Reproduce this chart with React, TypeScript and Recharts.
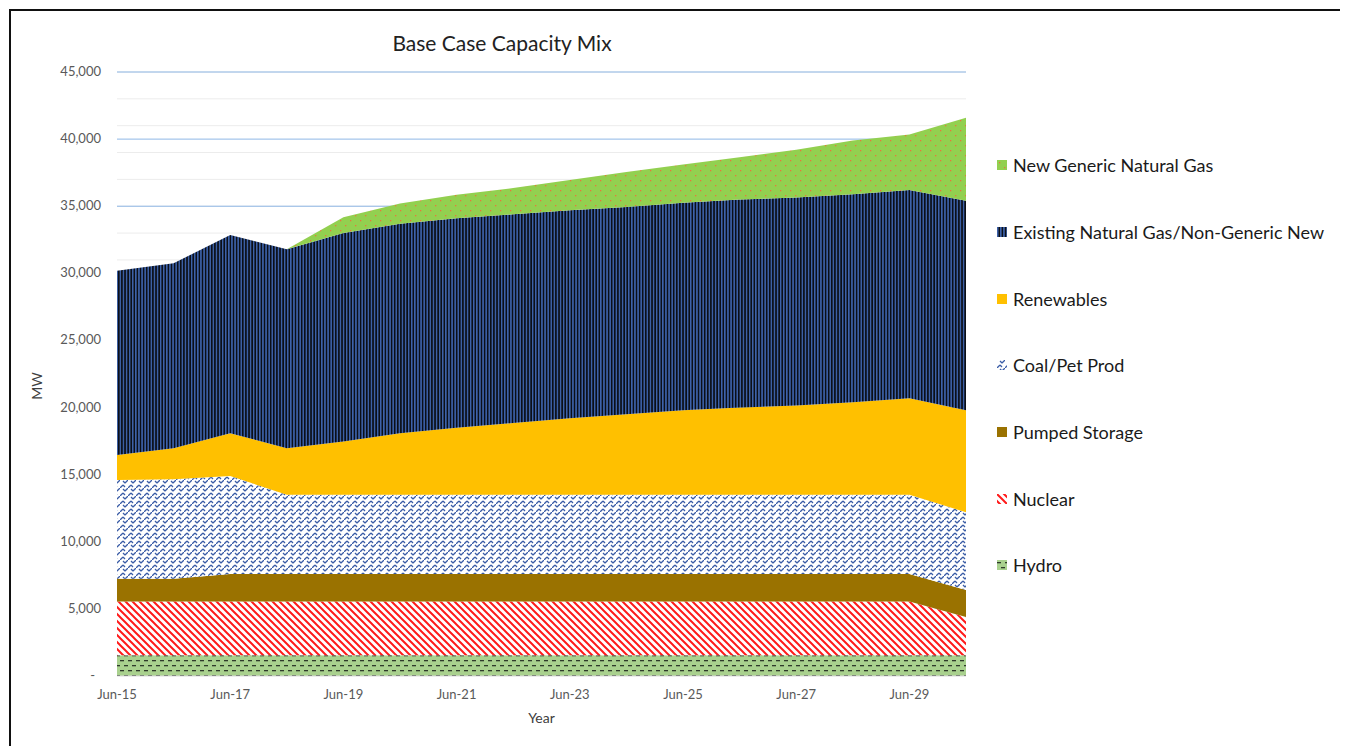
import { AreaChart, Area, XAxis, YAxis, CartesianGrid, Label } from 'recharts';

const months = ['Jun-15', 'Jun-16', 'Jun-17', 'Jun-18', 'Jun-19', 'Jun-20', 'Jun-21', 'Jun-22', 'Jun-23', 'Jun-24', 'Jun-25', 'Jun-26', 'Jun-27', 'Jun-28', 'Jun-29', 'Jun-30'];
const hydro = [1550, 1550, 1550, 1550, 1550, 1550, 1550, 1550, 1550, 1550, 1550, 1550, 1550, 1550, 1550, 1550];
const nuclear = [4000, 4000, 4000, 4000, 4000, 4000, 4000, 4000, 4000, 4000, 4000, 4000, 4000, 4000, 4000, 2850];
const pumped = [1700, 1700, 2050, 2050, 2050, 2050, 2050, 2050, 2050, 2050, 2050, 2050, 2050, 2050, 2050, 2000];
const coal = [7350, 7400, 7300, 5900, 5900, 5900, 5900, 5900, 5900, 5900, 5900, 5900, 5900, 5900, 5900, 5800];
const renewables = [1870, 2320, 3180, 3470, 3970, 4580, 5000, 5350, 5700, 6000, 6300, 6500, 6650, 6900, 7200, 7600];
const existingGas = [13730, 13780, 14780, 14830, 15530, 15620, 15600, 15550, 15500, 15450, 15450, 15500, 15500, 15500, 15500, 15600];
const newGas = [0, 0, 0, 0, 1180, 1500, 1750, 1950, 2250, 2600, 2850, 3150, 3550, 4000, 4150, 6200];
const yTicks = [0, 5000, 10000, 15000, 20000, 25000, 30000, 35000, 40000, 45000];
const minorTicks = Array.from({ length: 45 }, (_, i) => (i + 1) * 1000);

const data = months.map((m, i) => ({
  month: m,
  hydro: hydro[i],
  nuclear: nuclear[i],
  pumped: pumped[i],
  coal: coal[i],
  renewables: renewables[i],
  existingGas: existingGas[i],
  newGas: newGas[i],
}));

const SERIES = [
  { key: 'hydro', name: 'Hydro', fill: 'url(#patHydro)' },
  { key: 'nuclear', name: 'Nuclear', fill: 'url(#patNuclear)' },
  { key: 'pumped', name: 'Pumped Storage', fill: '#9a7200' },
  { key: 'coal', name: 'Coal/Pet Prod', fill: 'url(#patCoal)' },
  { key: 'renewables', name: 'Renewables', fill: '#ffc000' },
  { key: 'existingGas', name: 'Existing Natural Gas/Non-Generic New', fill: 'url(#patGas)' },
  { key: 'newGas', name: 'New Generic Natural Gas', fill: 'url(#patNewGas)' },
];

const FONT = 'Lato, "Open Sans", sans-serif';
const TICK = { fontSize: 13, fill: '#595959', fontFamily: FONT };

const fmt = (v: number) => (v === 0 ? '-' : v.toLocaleString('en-US'));

function YTick(props: any) {
  const { x, y, payload } = props;
  const v = payload.value;
  return (
    <text x={v === 0 ? x - 6 : x} y={y} dy={4} textAnchor="end" {...TICK}>
      {fmt(v)}
    </text>
  );
}

export default function App() {
  return (
    <div style={{ position: 'relative', width: 1340, height: 738, overflow: 'hidden', background: '#fff' }}>
      <div style={{ position: 'absolute', left: 1, top: 1, width: 1400, height: 800, borderLeft: '2px solid #111', borderTop: '2px solid #111' }} />
      <div style={{ position: 'absolute', left: 294, top: 22, width: 400, textAlign: 'center', fontFamily: FONT, fontSize: 21, color: '#222' }}>
        Base Case Capacity Mix
      </div>
      <div style={{ position: 'absolute', left: 0, top: 0 }}>
        <AreaChart width={1340} height={738} data={data} margin={{ top: 64, right: 382, bottom: 20, left: 49 }}>
          <defs>
            <pattern id="patNewGas" patternUnits="userSpaceOnUse" width="10" height="10">
              <rect width="10" height="10" fill="#92d050" />
              <rect x="2" y="2" width="1.3" height="1.3" fill="#e8763a" />
              <rect x="7" y="7" width="1.3" height="1.3" fill="#e8763a" />
            </pattern>
            <pattern id="patGas" patternUnits="userSpaceOnUse" width="3.1" height="10">
              <rect width="3.1" height="10" fill="#0b0f18" />
              <rect x="0" width="1.5" height="10" fill="#3d62aa" />
            </pattern>
            <pattern id="patCoal" patternUnits="userSpaceOnUse" width="8" height="8">
              <rect width="8" height="8" fill="#fff" />
              <path d="M0 8 L3 5 M5 3 L8 0 M3 5 L5 7 M5 3 L3 1" stroke="#3a5ca6" strokeWidth="1.3" fill="none" />
            </pattern>
            <pattern id="patNuclear" patternUnits="userSpaceOnUse" width="7" height="7">
              <rect width="7" height="7" fill="#fff" />
              <path d="M0 0 L7 7 M-1 6 L1 8 M6 -1 L8 1" stroke="#ff1a1a" strokeWidth="2" />
            </pattern>
            <pattern id="patHydro" patternUnits="userSpaceOnUse" width="8" height="10">
              <rect width="8" height="10" fill="#a9d18e" />
              <rect x="0" y="2" width="4" height="1.3" fill="#2e3a2a" />
              <rect x="4" y="7" width="4" height="1.3" fill="#2e3a2a" />
            </pattern>
          </defs>
          <CartesianGrid vertical={false} horizontalValues={minorTicks} stroke="#ececec" />
          <CartesianGrid vertical={false} horizontalValues={yTicks.slice(1)} stroke="#8fb8e6" />
          <XAxis dataKey="month" interval={1} tick={TICK} tickLine={false} tickMargin={8} height={50} axisLine={{ stroke: '#d9d9d9' }}>
            <Label value="Year" position="insideBottom" offset={3} style={{ fontSize: 14, fill: '#404040', fontFamily: FONT }} />
          </XAxis>
          <YAxis domain={[0, 45000]} ticks={yTicks} tick={<YTick />} tickLine={false} axisLine={false} tickMargin={10} width={60}>
            <Label
              content={() => (
                <text x={34} y={378} transform="rotate(-90 34 378)" textAnchor="middle" fontSize={14} fill="#404040" fontFamily={FONT}>
                  MW
                </text>
              )}
            />
          </YAxis>
          {SERIES.map((s) => (
            <Area
              key={s.key}
              type="linear"
              dataKey={s.key}
              name={s.name}
              stackId="1"
              stroke="none"
              fill={s.fill}
              fillOpacity={1}
              isAnimationActive={false}
            />
          ))}
        </AreaChart>
      </div>
      <div style={{ position: 'absolute', left: 989, top: 124, fontFamily: FONT, fontSize: 18, color: '#1a1a1a' }}>
        {[...SERIES].reverse().map((s) => (
          <div key={s.key} style={{ display: 'flex', alignItems: 'center', height: 66.7 }}>
            <svg width={10} height={10} style={{ marginRight: 6 }}>
              <rect width={10} height={10} fill={s.fill} />
            </svg>
            <span>{s.name}</span>
          </div>
        ))}
      </div>
    </div>
  );
}
